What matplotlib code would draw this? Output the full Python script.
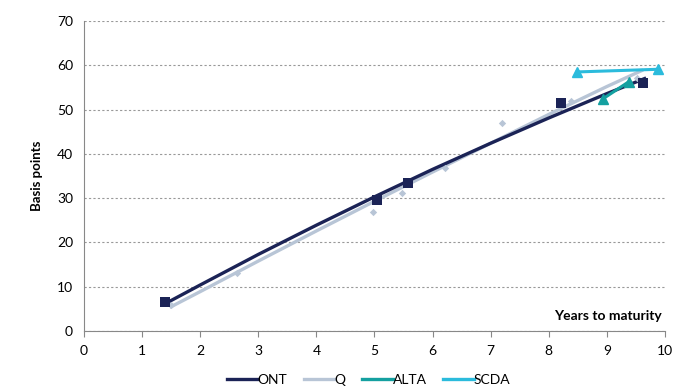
import matplotlib.pyplot as plt
from matplotlib.lines import Line2D

plt.rcParams['font.family'] = ['Lato', 'DejaVu Sans']

# scatter points (years, basis points)
ont_x = [1.39, 5.04, 5.58, 8.21, 9.62]
ont_y = [6.5, 29.6, 33.4, 51.5, 56.0]
q_x = [1.5, 2.63, 4.97, 5.47, 6.21, 7.19, 8.38, 9.52]
q_y = [5.8, 13.1, 26.9, 31.2, 36.8, 47.0, 52.0, 57.2]
alta_x = [8.93, 9.38]
alta_y = [52.4, 56.3]
scda_x = [8.49, 9.88]
scda_y = [58.5, 59.1]

# trendlines as they appear on the chart
ont_tr_x = [1.4, 2, 3, 4, 5, 6, 7, 8, 9, 9.65]
ont_tr_y = [6.2, 10.4, 17.3, 23.9, 30.3, 36.5, 42.4, 48.1, 53.6, 57.0]
q_tr_x = [1.5, 2, 3, 4, 5, 6, 7, 8, 9, 9.6]
q_tr_y = [5.5, 8.9, 15.8, 22.6, 29.3, 35.9, 42.4, 48.9, 55.2, 58.8]

c_ont = '#1b2356'
c_q = '#b8c5d6'
c_alta = '#14a0a0'
c_scda = '#2bbbdc'

fig = plt.figure(figsize=(6.89, 3.89), dpi=100)
ax = fig.add_axes([0.122, 0.149, 0.843, 0.797])

ax.plot(q_tr_x, q_tr_y, color=c_q, lw=2.4, zorder=2)
ax.plot(ont_tr_x, ont_tr_y, color=c_ont, lw=2.4, zorder=3)
ax.scatter(q_x, q_y, marker='D', s=14, color=c_q, zorder=4, linewidths=0)
ax.scatter(ont_x, ont_y, marker='s', s=45, color=c_ont, zorder=5, linewidths=0)
ax.plot(alta_x, alta_y, color=c_alta, lw=2.2, marker='^', ms=7, zorder=6)
ax.plot(scda_x, scda_y, color=c_scda, lw=2.2, marker='^', ms=7, zorder=6)

ax.set_xlim(0, 10)
ax.set_ylim(0, 70)
ax.set_xticks(range(0, 11))
ax.set_yticks(range(0, 71, 10))
ax.yaxis.grid(True, linestyle=(0, (2, 2)), color='#999999', lw=0.8)
ax.set_axisbelow(True)
for s in ['top', 'right']:
    ax.spines[s].set_visible(False)
for s in ['left', 'bottom']:
    ax.spines[s].set_color('#888888')
ax.tick_params(axis='x', direction='out', length=4, color='#888888', labelsize=10, pad=6)
ax.tick_params(axis='y', length=0, labelsize=10, pad=8)

ax.set_ylabel('Basis points', fontsize=9.5, fontweight='bold', labelpad=10)
ax.text(9.95, 2.0, 'Years to maturity', ha='right', va='bottom', fontsize=10, fontweight='bold')

handles = [Line2D([], [], color=c, lw=2.4) for c in (c_ont, c_q, c_alta, c_scda)]
fig.legend(handles, ['ONT', 'Q', 'ALTA', 'SCDA'], loc='lower center', ncol=4,
           bbox_to_anchor=(0.535, -0.025), frameon=False, fontsize=10,
           handlelength=2.2, handletextpad=0.0, columnspacing=1.2)

fig.savefig('out.png', dpi=100)
